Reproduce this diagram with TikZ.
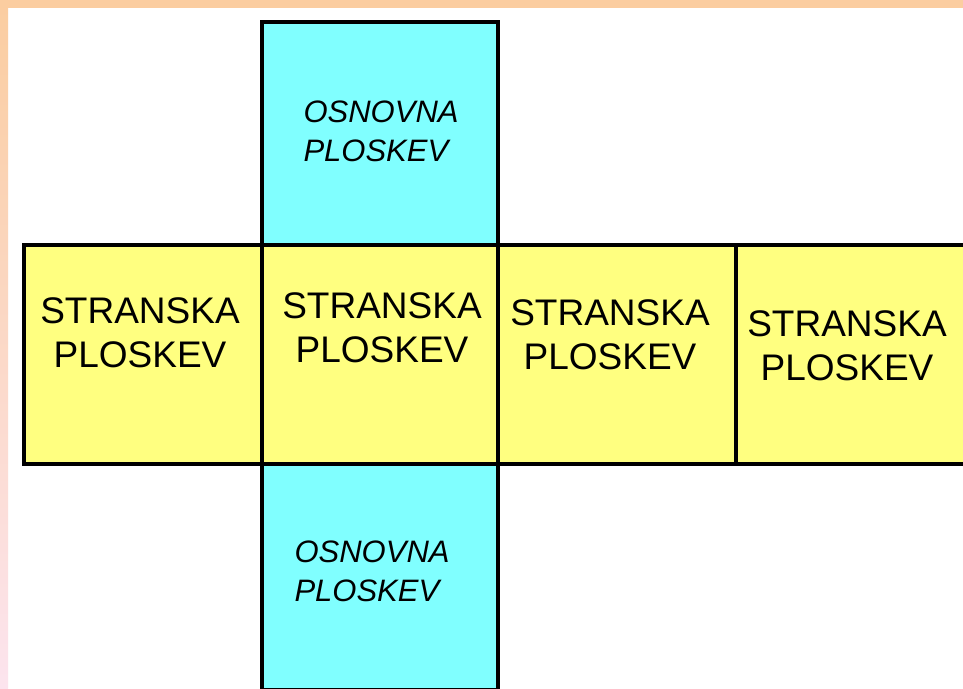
\documentclass[tikz,border=0pt]{standalone}
\usepackage{fontspec}
\newfontfamily\netfont{Liberation Sans}
\usetikzlibrary{positioning}
\definecolor{netPeach}{HTML}{FBCDA0}
\definecolor{netPink}{HTML}{FCE4EE}
\definecolor{netCyan}{HTML}{80FFFF}
\definecolor{netYellow}{HTML}{FFFF80}
\tikzset{
  face/.style      = {draw=black, line width=3.5pt, inner sep=0pt, outer sep=0pt},
  sideface/.style  = {face, fill=netYellow, minimum height=219pt},
  baseface/.style  = {face, fill=netCyan, minimum width=236pt},
  sidelbl/.style   = {align=center, font=\netfont\fontsize{37}{44}\selectfont},
  baselbl/.style   = {align=left, anchor=west,
                      font=\netfont\itshape\fontsize{31}{39}\selectfont},
}

\begin{document}
\begin{tikzpicture}[x=1pt,y=-1pt]
  \useasboundingbox (0,0) rectangle (963,688);
  \clip (0,0) rectangle (963,688);
  \fill[white] (0,0) rectangle (963,688);
  \shade[top color=netPeach, bottom color=netPink] (0,0) rectangle (8,688);
  \fill[netPeach] (0,0) rectangle (963,8);
  \node[baseface, minimum height=223pt] (top)   at (380,133.5) {};
  \node[baseface, minimum height=226pt] (bot)   at (380,577)   {};
  \node[sideface, minimum width=238pt]  (side1) at (143,354.5) {};
  \node[sideface, minimum width=236pt]  (side2) at (380,354.5) {};
  \node[sideface, minimum width=238pt]  (side3) at (617,354.5) {};
  \node[sideface, minimum width=239pt]  (side4) at (855.5,354.5) {};
  \node[baselbl] (toplbl) at (300,131) {OSNOVNA\\PLOSKEV};
  \node[baselbl] (botlbl) at (291,571) {OSNOVNA\\PLOSKEV};
  \node[sidelbl] (lbl1) at (140,332.5) {STRANSKA\\PLOSKEV};
  \node[sidelbl] (lbl2) at (382,327.5) {STRANSKA\\PLOSKEV};
  \node[sidelbl] (lbl3) at (610,335)   {STRANSKA\\PLOSKEV};
  \node[sidelbl] (lbl4) at (847,345.5) {STRANSKA\\PLOSKEV};
\end{tikzpicture}
\end{document}
